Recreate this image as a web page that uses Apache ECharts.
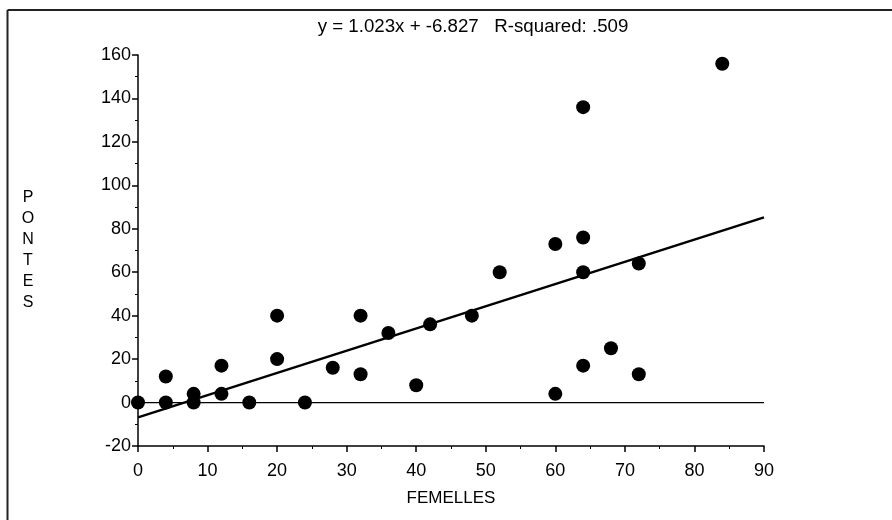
<!DOCTYPE html>
<html>
<head>
<meta charset="utf-8">
<script src="https://cdn.jsdelivr.net/npm/echarts@6/dist/echarts.min.js"></script>
<style>html,body{margin:0;padding:0;background:#fff}#c{width:892px;height:520px}</style>
</head>
<body>
<div id="c"></div>
<script>
// Data
const femelles = [0, 4, 4, 8, 8, 12, 12, 16, 20, 20, 24, 28, 32, 32, 36, 40, 42, 48, 52, 60, 60, 64, 64, 64, 64, 68, 72, 72, 84];
const pontes   = [0, 12, 0, 0, 4, 17, 4, 0, 40, 20, 0, 16, 40, 13, 32, 8, 36, 40, 60, 73, 4, 136, 76, 60, 17, 25, 64, 13, 156];
const slope = 1.023;
const intercept = -6.827;
const rSquared = '.509';
const xTicks = { min: 0, max: 90, interval: 10 };
const yTicks = { min: -20, max: 160, interval: 20 };
const xName = 'FEMELLES';
const yName = 'PONTES';

const points = femelles.map((x, i) => [x, pontes[i]]);
const fitLine = [[xTicks.min, slope * xTicks.min + intercept], [xTicks.max, slope * xTicks.max + intercept]];
const titleText = 'y = ' + slope.toFixed(3) + 'x + ' + intercept.toFixed(3) + '   R-squared: ' + rSquared;

const FONT = 'Liberation Sans';
const chart = echarts.init(document.getElementById('c'), null, { renderer: 'canvas' });
const axisCommon = {
  axisLine: { show: true, lineStyle: { color: '#000', width: 1.5 } },
  axisTick: { show: true, inside: false, length: 6, lineStyle: { color: '#000', width: 1.5 } },
  minorTick: { show: true, splitNumber: 2, length: 3, lineStyle: { color: '#000', width: 1 } },
  splitLine: { show: false },
  axisLabel: { color: '#000', fontFamily: FONT, fontSize: 18 },
  nameTextStyle: { color: '#000', fontFamily: FONT, fontSize: 16 }
};
chart.setOption({
  animation: false,
  backgroundColor: '#fff',
  title: {
    text: titleText,
    left: 468, top: 12, textAlign: 'center',
    textStyle: { color: '#000', fontFamily: FONT, fontSize: 18.7, fontWeight: 'normal' }
  },
  graphic: [
    { type: 'line', shape: { x1: 7.5, y1: 10, x2: 892, y2: 10 }, style: { stroke: '#222', lineWidth: 2 } },
    { type: 'line', shape: { x1: 7.5, y1: 10, x2: 7.5, y2: 520 }, style: { stroke: '#222', lineWidth: 2 } }
  ],
  grid: { left: 138, right: 128, top: 55, bottom: 74, containLabel: false },
  xAxis: Object.assign({}, axisCommon, {
    type: 'value', min: xTicks.min, max: xTicks.max, interval: xTicks.interval,
    axisLine: { show: true, onZero: false, lineStyle: { color: '#000', width: 1.5 } },
    axisLabel: Object.assign({}, axisCommon.axisLabel, { margin: 16 }),
    name: xName, nameLocation: 'middle', nameGap: 44,
    nameTextStyle: { color: '#000', fontFamily: FONT, fontSize: 17 }
  }),
  yAxis: Object.assign({}, axisCommon, {
    type: 'value', min: yTicks.min, max: yTicks.max, interval: yTicks.interval,
    axisLine: { show: true, onZero: false, lineStyle: { color: '#000', width: 1.5 } },
    axisLabel: Object.assign({}, axisCommon.axisLabel, { margin: 7 }),
    name: yName.split('').join('\n'), nameLocation: 'middle', nameRotate: 0, nameGap: 110,
    nameTextStyle: { color: '#000', fontFamily: FONT, fontSize: 16, lineHeight: 21, align: 'center', padding: [10, 0, 0, 0] }
  }),
  series: [
    {
      type: 'line', data: [[xTicks.min, 0], [xTicks.max, 0]], symbol: 'none', silent: true,
      lineStyle: { color: '#000', width: 1.2 }, z: 1
    },
    {
      type: 'line', data: fitLine, symbol: 'none', silent: true,
      lineStyle: { color: '#000', width: 2.5 }, z: 2
    },
    {
      type: 'scatter', data: points, symbol: 'circle', symbolSize: 14,
      itemStyle: { color: '#000', opacity: 1 }, z: 3
    }
  ]
});
</script>
</body>
</html>
